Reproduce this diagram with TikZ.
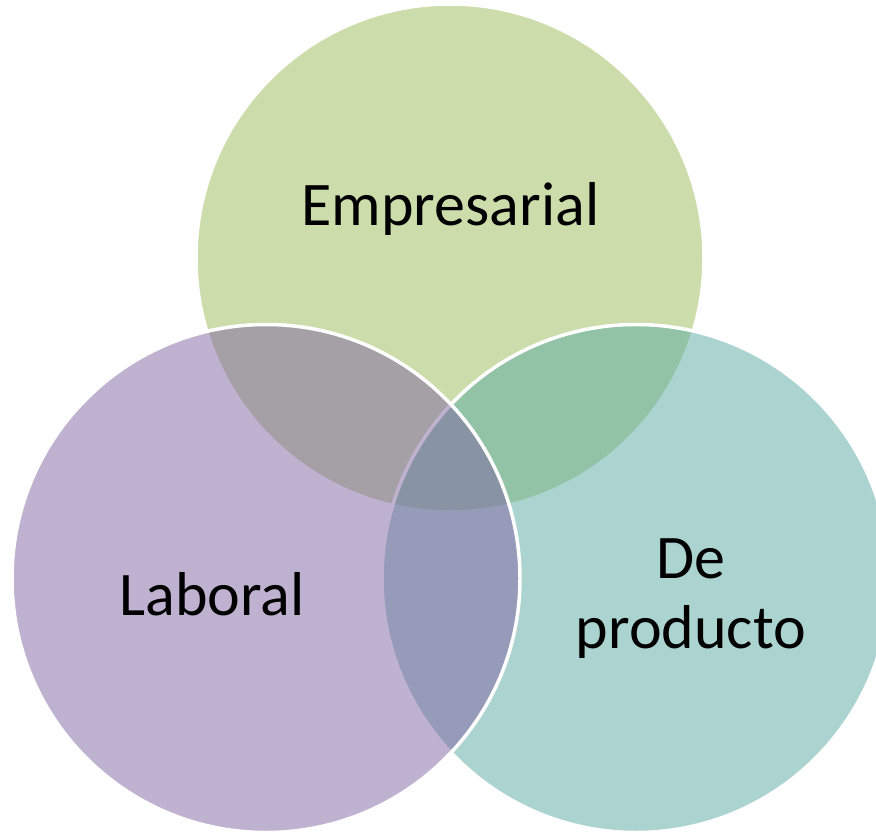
\documentclass[tikz,border=0pt]{standalone}
\usepackage{fontspec}
\setmainfont{Carlito}
\definecolor{cgreen}{HTML}{9BBB59}
\definecolor{cpurple}{HTML}{8064A2}
\definecolor{cteal}{HTML}{59ABA4}
\tikzset{
  venn/.style={fill opacity=0.5, draw=white, line width=3.5pt},
  lbl/.style={font=\fontsize{62}{70}\selectfont, text=black, inner sep=0pt, anchor=base}
}
\begin{document}
\begin{tikzpicture}[x=1pt,y=-1pt]
\useasboundingbox (0,0) rectangle (876,833);
\clip (0,0) rectangle (876,833);
\fill[white] (0,0) rectangle (876,833);
\path[venn, fill=cgreen] (450,258) circle[radius=254];
\path[venn, fill=cteal] (636,578.5) circle[radius=254];
\path[venn, fill=cpurple] (266,578.5) circle[radius=254];
\node[lbl] (emp) at (450.5,225) {Empresarial};
\node[lbl] (lab) at (212,615) {Laboral};
\node[lbl] (de) at (691,578) {De};
\node[lbl] (prod) at (691,648) {producto};
\end{tikzpicture}
\end{document}
